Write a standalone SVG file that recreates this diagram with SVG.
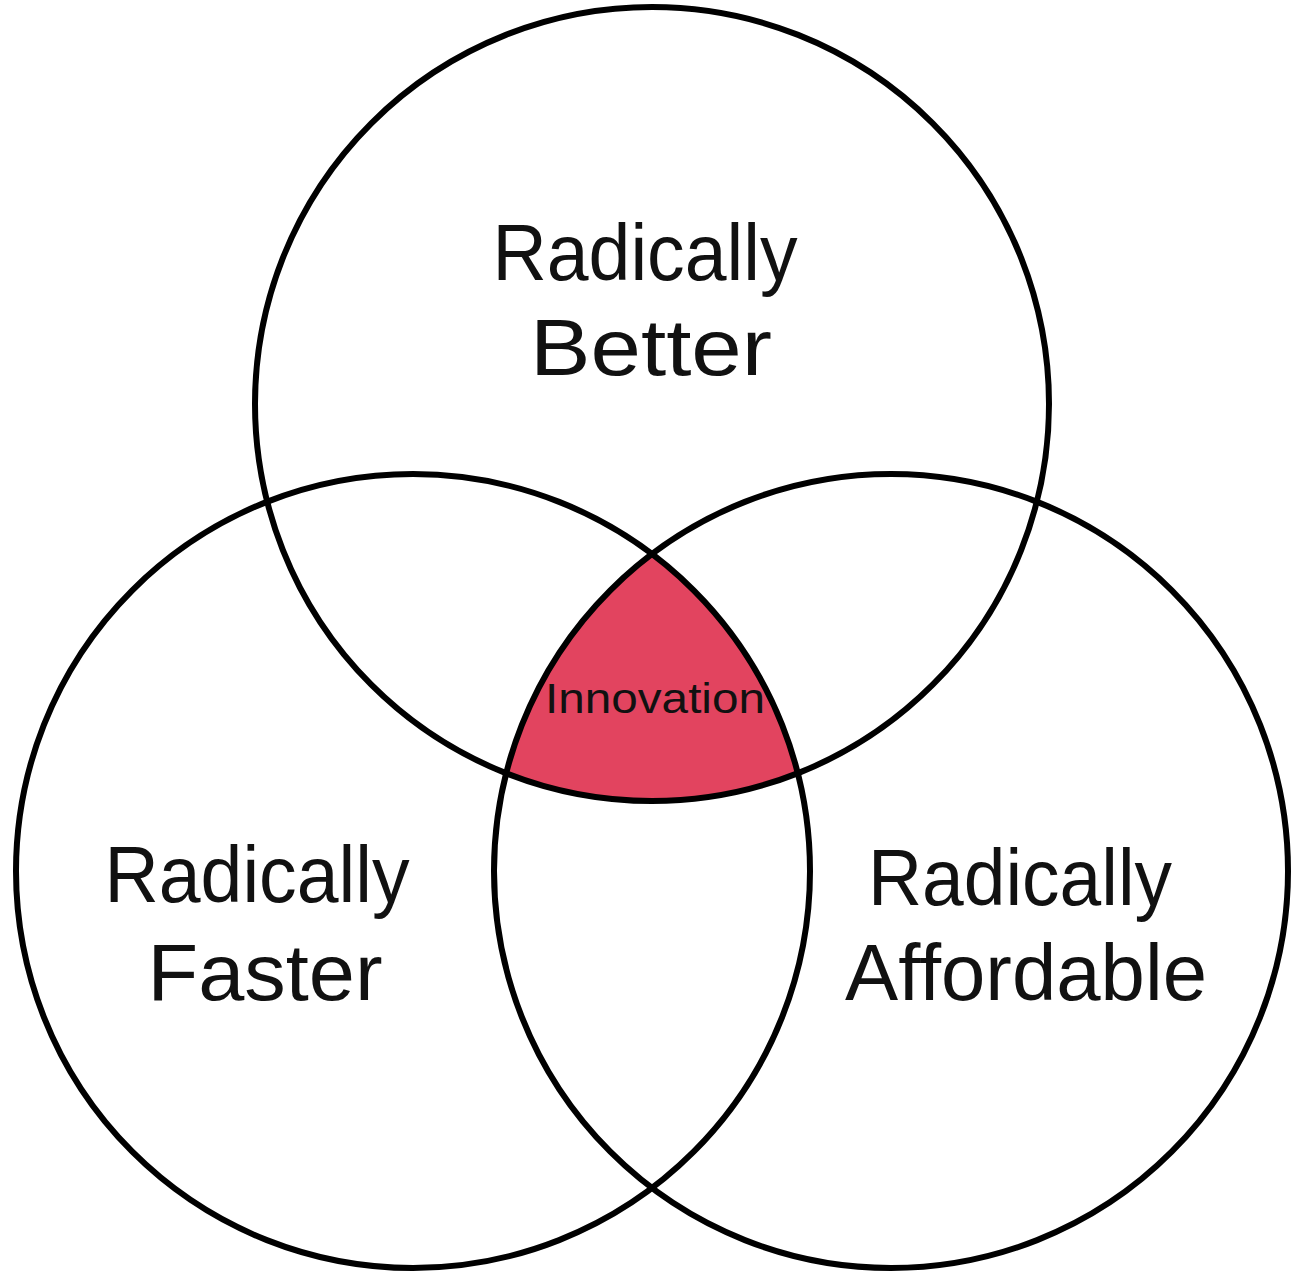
<svg xmlns="http://www.w3.org/2000/svg" width="1294" height="1276" viewBox="0 0 1294 1276">
<style>
.ring{fill:none;stroke:#000;stroke-width:6}
.lbl{font-family:"Liberation Sans",Arial,sans-serif;font-weight:400;font-size:80px;fill:#111;text-anchor:middle}
.small{font-size:42px}
</style>
<rect width="1294" height="1276" fill="#fff"/>
<g id="innovation">
<path d="M652,554 A397,397 0 0 1 797.8,773.3 A397,397 0 0 1 506.2,773.3 A397,397 0 0 1 652,554 Z" fill="#E2445F"/>
<text class="lbl small" x="655" y="713" textLength="220" lengthAdjust="spacingAndGlyphs">Innovation</text>
</g>
<g id="better">
<circle class="ring" cx="652" cy="404" r="397"/>
<text class="lbl" x="645" y="280" textLength="305" lengthAdjust="spacingAndGlyphs">Radically</text>
<text class="lbl" x="651" y="375" textLength="242" lengthAdjust="spacingAndGlyphs">Better</text>
</g>
<g id="faster">
<circle class="ring" cx="413" cy="871" r="397"/>
<text class="lbl" x="257" y="902" textLength="305" lengthAdjust="spacingAndGlyphs">Radically</text>
<text class="lbl" x="265" y="1000" textLength="235" lengthAdjust="spacingAndGlyphs">Faster</text>
</g>
<g id="affordable">
<circle class="ring" cx="891" cy="871" r="397"/>
<text class="lbl" x="1020" y="905" textLength="304" lengthAdjust="spacingAndGlyphs">Radically</text>
<text class="lbl" x="1026" y="1000" textLength="362" lengthAdjust="spacingAndGlyphs">Affordable</text>
</g>
<g id="connectors"/>
</svg>
